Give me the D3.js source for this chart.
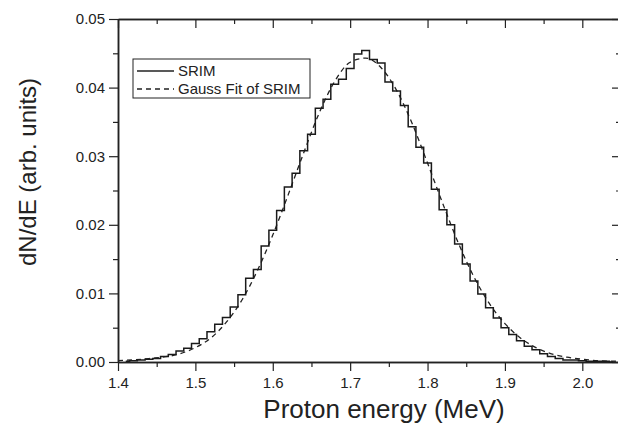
<!DOCTYPE html>
<html>
<head>
<meta charset="utf-8">
<script src="https://cdn.jsdelivr.net/npm/d3@7"></script>
<style>
  body { margin: 0; background: #fff; }
  text { font-family: "Liberation Sans", Arial, sans-serif; fill: #222; }
</style>
</head>
<body>
<div id="chart"></div>
<script>
// --- DATA ---
// SRIM histogram, bin centres (MeV), bin width 0.01 MeV
const binCenters = [1.41, 1.42, 1.43, 1.44, 1.45, 1.46, 1.47, 1.48, 1.49, 1.50,
                    1.51, 1.52, 1.53, 1.54, 1.55, 1.56, 1.57, 1.58, 1.59, 1.60,
                    1.61, 1.62, 1.63, 1.64, 1.65, 1.66, 1.67, 1.68, 1.69, 1.70,
                    1.71, 1.72, 1.73, 1.74, 1.75, 1.76, 1.77, 1.78, 1.79, 1.80,
                    1.81, 1.82, 1.83, 1.84, 1.85, 1.86, 1.87, 1.88, 1.89, 1.90,
                    1.91, 1.92, 1.93, 1.94, 1.95, 1.96, 1.97, 1.98, 1.99, 2.00,
                    2.01, 2.02, 2.03, 2.04];
const srimValues = [0.0001, 0.0002, 0.0003, 0.0004, 0.0005, 0.0008, 0.0011, 0.0016, 0.0020, 0.0027,
                    0.0034, 0.0044, 0.0055, 0.0065, 0.0080, 0.0098, 0.0122, 0.0135, 0.0169, 0.0192,
                    0.0221, 0.0255, 0.0275, 0.0308, 0.0332, 0.0370, 0.0383, 0.0405, 0.0412, 0.0428,
                    0.0449, 0.0454, 0.0441, 0.0436, 0.0408, 0.0395, 0.0374, 0.0343, 0.0313, 0.0290,
                    0.0252, 0.0222, 0.0200, 0.0172, 0.0143, 0.0118, 0.0099, 0.0079, 0.0064, 0.0050,
                    0.0040, 0.0031, 0.0023, 0.0018, 0.0012, 0.0008, 0.0005, 0.0003, 0.0003, 0.0002,
                    0.0001, 0.0001, 0.0001, 0.0000];

// Gauss fit of SRIM (dashed), sampled points
const fitEnergy = [1.40, 1.44, 1.48, 1.50, 1.52, 1.54, 1.56, 1.58, 1.60, 1.62,
                   1.64, 1.66, 1.68, 1.70, 1.72, 1.74, 1.76, 1.78, 1.80, 1.82,
                   1.84, 1.86, 1.88, 1.90, 1.92, 1.94, 1.96, 1.98, 2.00, 2.02, 2.05];
const fitValues = [0.0002, 0.0005, 0.0012, 0.0021, 0.0035, 0.0058, 0.0090, 0.0133, 0.0185, 0.0244,
                   0.0305, 0.0363, 0.0409, 0.0437, 0.0443, 0.0429, 0.0396, 0.0348, 0.0290, 0.0230,
                   0.0173, 0.0124, 0.0085, 0.0056, 0.0035, 0.0021, 0.0012, 0.0007, 0.0004, 0.0002, 0.0001];

const xMajorTicks = [1.4, 1.5, 1.6, 1.7, 1.8, 1.9, 2.0];
const xMinorTicks = [1.45, 1.55, 1.65, 1.75, 1.85, 1.95, 2.05];
const yMajorTicks = [0, 0.01, 0.02, 0.03, 0.04, 0.05];
const yMinorTicks = [0.005, 0.015, 0.025, 0.035, 0.045];

const legendItems = [
  { label: "SRIM", dash: null },
  { label: "Gauss Fit of SRIM", dash: "5,4" }
];

// --- CHART ---
const W = 618, H = 424;
const plot = { left: 118, right: 621, top: 19, bottom: 362 };

const svg = d3.select("#chart").append("svg")
    .attr("width", W)
    .attr("height", H);

const x = d3.scaleLinear().domain([1.4, 2.05]).range([plot.left, plot.right]);
const y = d3.scaleLinear().domain([0, 0.05]).range([plot.bottom, plot.top]);

function styleAxis(g) {
  g.select(".domain").attr("stroke", "#222").attr("stroke-width", 1.5);
  g.selectAll(".tick line").attr("stroke", "#222").attr("stroke-width", 1.2);
  g.selectAll(".tick text")
    .style("font-family", '"Liberation Sans", Arial, sans-serif')
    .style("font-size", "15px")
    .attr("fill", "#222");
}

// bottom axis (ticks out)
svg.append("g").attr("transform", `translate(0,${plot.bottom})`)
  .call(d3.axisBottom(x).tickValues(xMinorTicks).tickSize(5).tickFormat("").tickSizeOuter(0))
  .call(styleAxis);
svg.append("g").attr("transform", `translate(0,${plot.bottom})`)
  .call(d3.axisBottom(x).tickValues(xMajorTicks).tickSize(9).tickPadding(6)
        .tickFormat(d3.format(".1f")).tickSizeOuter(0))
  .call(styleAxis);

// top axis (ticks in)
svg.append("g").attr("transform", `translate(0,${plot.top})`)
  .call(d3.axisBottom(x).tickValues(xMinorTicks).tickSize(5).tickFormat("").tickSizeOuter(0))
  .call(styleAxis);
svg.append("g").attr("transform", `translate(0,${plot.top})`)
  .call(d3.axisBottom(x).tickValues(xMajorTicks).tickSize(9).tickFormat("").tickSizeOuter(0))
  .call(styleAxis);

// left axis (ticks out)
svg.append("g").attr("transform", `translate(${plot.left},0)`)
  .call(d3.axisLeft(y).tickValues(yMinorTicks).tickSize(5).tickFormat("").tickSizeOuter(0))
  .call(styleAxis);
svg.append("g").attr("transform", `translate(${plot.left},0)`)
  .call(d3.axisLeft(y).tickValues(yMajorTicks).tickSize(9).tickPadding(4)
        .tickFormat(d3.format(".2f")).tickSizeOuter(0))
  .call(styleAxis);

// right axis (ticks in)
svg.append("g").attr("transform", `translate(${plot.right},0)`)
  .call(d3.axisLeft(y).tickValues(yMinorTicks).tickSize(5).tickFormat("").tickSizeOuter(0))
  .call(styleAxis);
svg.append("g").attr("transform", `translate(${plot.right},0)`)
  .call(d3.axisLeft(y).tickValues(yMajorTicks).tickSize(9).tickFormat("").tickSizeOuter(0))
  .call(styleAxis);

// Gauss fit (dashed)
const fitLine = d3.line()
    .x((d, i) => x(fitEnergy[i]))
    .y(d => y(d))
    .curve(d3.curveMonotoneX);
svg.append("path")
    .datum(fitValues)
    .attr("d", fitLine)
    .attr("fill", "none")
    .attr("stroke", "#222")
    .attr("stroke-width", 1.3)
    .attr("stroke-dasharray", "5,4");

// SRIM histogram (steps)
const stepLine = d3.line()
    .x((d, i) => x(binCenters[i]))
    .y(d => y(d))
    .curve(d3.curveStep);
svg.append("path")
    .datum(srimValues)
    .attr("d", stepLine)
    .attr("fill", "none")
    .attr("stroke", "#1a1a1a")
    .attr("stroke-width", 1.5);

// axis titles
svg.append("text")
    .attr("x", 384).attr("y", 418)
    .attr("text-anchor", "middle")
    .style("font-size", "26px")
    .text("Proton energy (MeV)");

svg.append("text")
    .attr("transform", "translate(36,172) rotate(-90)")
    .attr("text-anchor", "middle")
    .style("font-size", "24px")
    .text("dN/dE (arb. units)");

// legend
const legend = svg.append("g");
legend.append("rect")
    .attr("x", 133).attr("y", 59)
    .attr("width", 177).attr("height", 39)
    .attr("fill", "#fff")
    .attr("stroke", "#222")
    .attr("stroke-width", 1);

legendItems.forEach((item, i) => {
  const ly = 71 + i * 18;
  legend.append("line")
      .attr("x1", 137).attr("x2", 174)
      .attr("y1", ly).attr("y2", ly)
      .attr("stroke", "#222")
      .attr("stroke-width", 1.3)
      .attr("stroke-dasharray", item.dash);
  legend.append("text")
      .attr("x", 178).attr("y", ly + 5)
      .style("font-size", "15px")
      .text(item.label);
});
</script>
</body>
</html>
